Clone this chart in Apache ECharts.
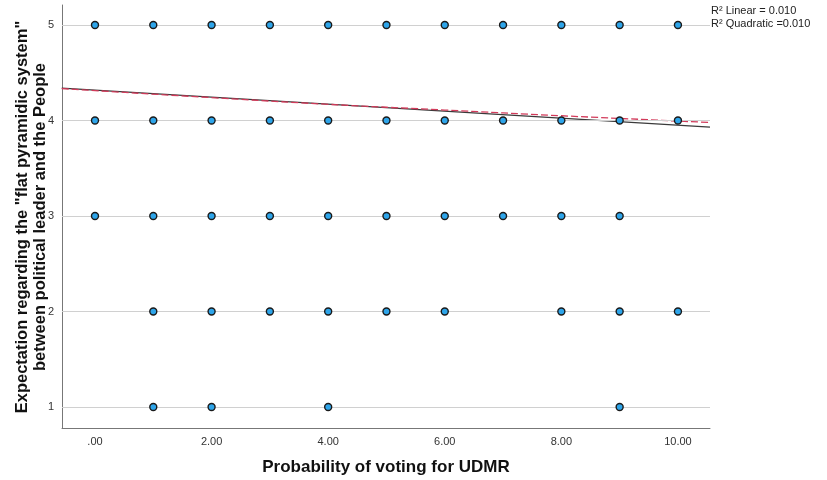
<!DOCTYPE html>
<html><head><meta charset="utf-8">
<script src="https://cdn.jsdelivr.net/npm/echarts@6/dist/echarts.min.js"></script>
<style>html,body{margin:0;padding:0;background:#fff}#c{width:827px;height:480px}</style>
</head><body><div id="c"></div>
<script>
// Observed (x, y) combinations
const row5X = [0,1,2,3,4,5,6,7,8,9,10];
const row4X = [0,1,2,3,4,5,6,7,8,9,10];
const row3X = [0,1,2,3,4,5,6,7,8,9];
const row2X = [1,2,3,4,5,6,8,9,10];
const row1X = [1,2,4,9];
const rowY = [5,4,3,2,1];
// Fit lines
const linearX = [-0.57, 10.55];
const linearY = [4.34, 3.93];
const quadX = [-0.57, 2, 4, 6, 8, 10.55];
const quadY = [4.335, 4.24, 4.17, 4.11, 4.05, 3.98];
const xTicks = [0,2,4,6,8,10];
const yTicks = [1,2,3,4,5];
const fitLabels = ['R\u00B2 Linear = 0.010', 'R\u00B2 Quadratic =0.010'];
const yTitle = 'Expectation regarding the "flat pyramidic system"\nbetween political leader and the People';

const rows = [row5X,row4X,row3X,row2X,row1X];
const pts = [];
rows.forEach((r,i)=>r.forEach(x=>pts.push([x,rowY[i]])));

const font = '"Liberation Sans", Arial, sans-serif';
const chart = echarts.init(document.getElementById('c'));
chart.setOption({
  animation:false,
  grid:{left:62,right:117,top:5,bottom:52,outerBoundsMode:'none',containLabel:false},
  xAxis:{type:'value',min:-0.566,max:10.55,
    name:'Probability of voting for UDMR',nameLocation:'middle',nameGap:31,
    nameTextStyle:{fontFamily:font,fontWeight:'bold',fontSize:17,color:'#111'},
    axisLine:{show:true,onZero:false,lineStyle:{color:'#777',width:1}},
    axisTick:{show:false,customValues:xTicks},
    splitLine:{show:false},
    axisLabel:{customValues:xTicks,margin:8,fontFamily:font,fontSize:11,color:'#333',
      formatter:v=>v===0?'.00':v.toFixed(2)}},
  yAxis:{type:'value',min:0.78,max:5.21,
    axisLine:{show:true,onZero:false,lineStyle:{color:'#777',width:1}},
    axisTick:{show:false,customValues:yTicks},
    splitLine:{show:false},
    axisLabel:{customValues:yTicks,margin:8,fontFamily:font,fontSize:11,color:'#333'}},
  graphic:[
    ...fitLabels.map((t,i)=>({type:'text',left:711,top:5+i*13,
      style:{text:t,font:'11px '+font,fill:'#222'}})),
    {type:'text',x:31,y:217,rotation:Math.PI/2,
     style:{text:yTitle,align:'center',verticalAlign:'middle',fill:'#111',
       font:'bold 16.5px '+font,lineHeight:18}}
  ],
  series:[
    {type:'line',silent:true,symbol:'none',data:[],
     markLine:{silent:true,symbol:'none',label:{show:false},
       lineStyle:{color:'#d0d0d0',width:1.2,type:'solid'},
       data:yTicks.map(v=>({yAxis:v}))}},
    {type:'line',data:linearX.map((x,i)=>[x,linearY[i]]),symbol:'none',
     lineStyle:{color:'#3a3a3a',width:1.3},z:3},
    {type:'line',data:quadX.map((x,i)=>[x,quadY[i]]),symbol:'none',smooth:true,
     lineStyle:{color:'#d23a5a',width:1.3,type:[7,3]},z:4},
    {type:'scatter',data:pts,symbolSize:7,z:5,
     itemStyle:{color:'#2ea5ea',borderColor:'#1a1a1a',borderWidth:1.4,opacity:1}}
  ]
});
</script></body></html>
